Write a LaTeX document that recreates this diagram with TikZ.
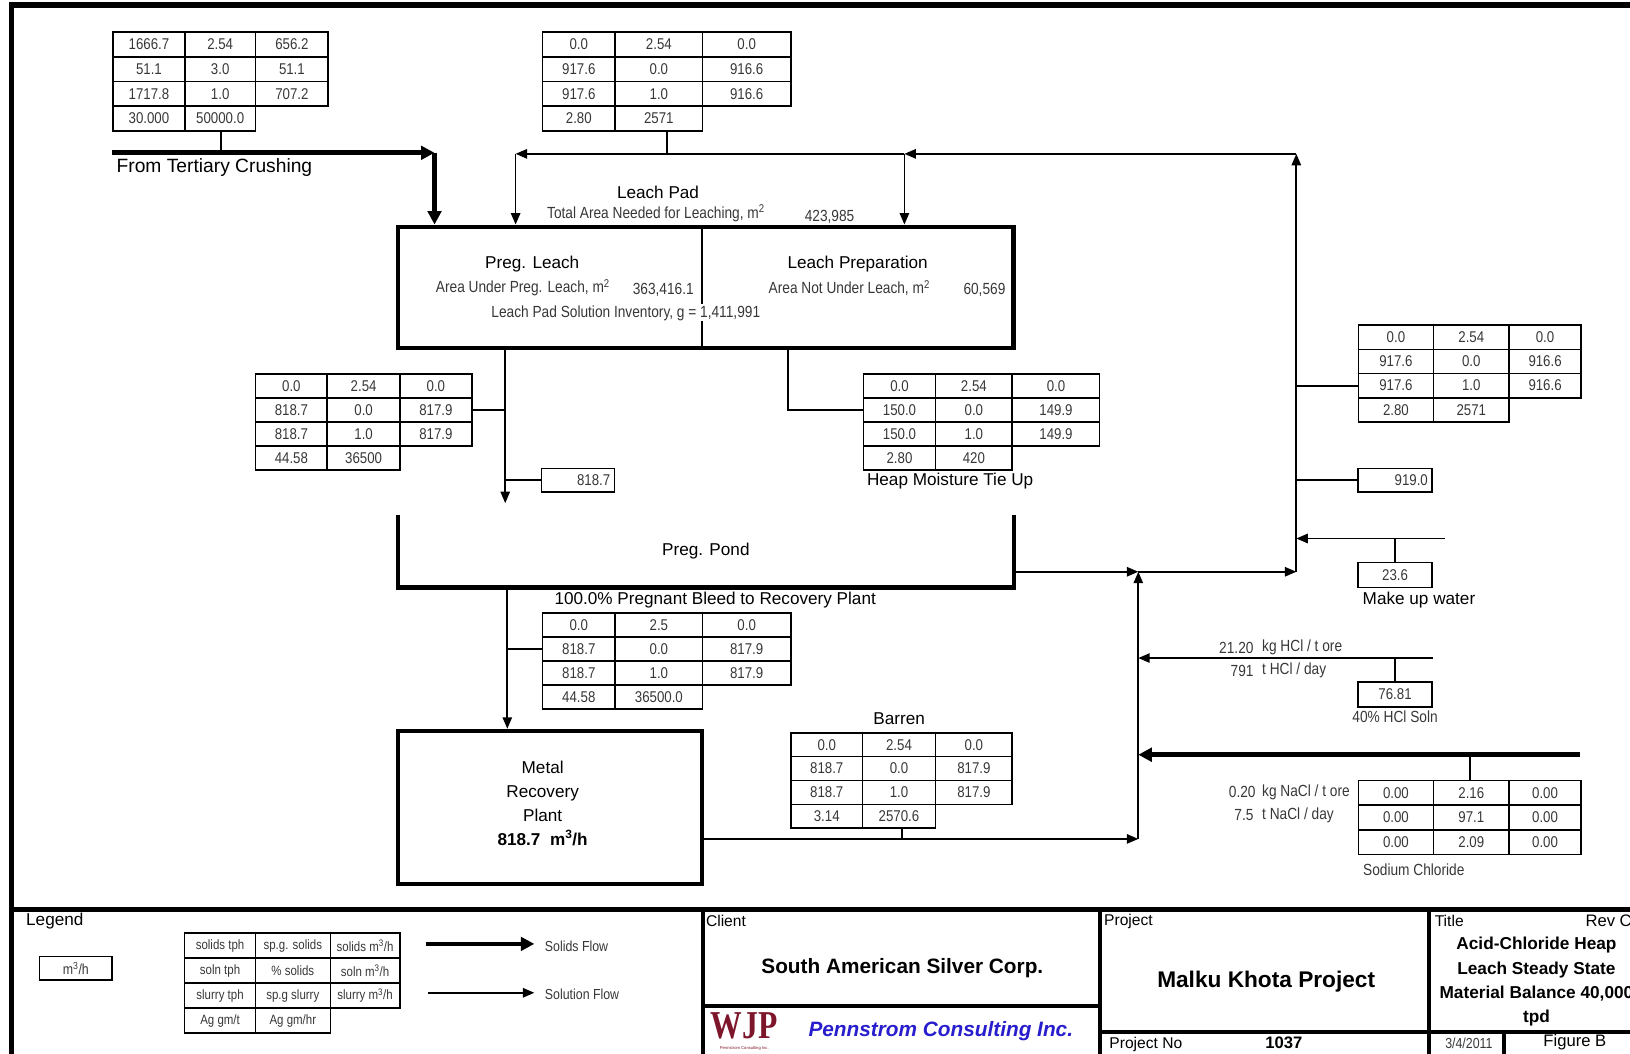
\documentclass[tikz,border=0pt]{standalone}
\usepackage{fontspec}
\setmainfont{Liberation Sans}
\newfontfamily\narrowfont{Liberation Sans}[FakeStretch=0.85]
\newfontfamily\logofont{Liberation Serif}[FakeStretch=0.8]
\usetikzlibrary{matrix,arrows.meta}

\definecolor{numgray}{RGB}{55,55,55}
\definecolor{logored}{RGB}{125,22,42}
\definecolor{pennblue}{RGB}{40,30,205}

\newcommand{\tabnum}{\narrowfont\fontsize{15}{17}\selectfont}
\newcommand{\notefont}{\narrowfont\fontsize{15.5}{18}\selectfont}
\newcommand{\legfont}{\narrowfont\fontsize{14}{16}\selectfont}
\newcommand{\legcell}{\narrowfont\fontsize{13}{15}\selectfont}
\newcommand{\lblfont}{\fontsize{16.5}{19}\selectfont}
\newcommand{\headfont}{\fontsize{15}{17}\selectfont}

\tikzset{
  cell/.style = {draw, line width=1.6pt, minimum height=23.5pt, inner sep=0pt, outer sep=0pt, font=\tabnum, text=numgray},
  datatab/.style = {matrix of nodes, inner sep=0pt, outer sep=0pt, column sep=-1.6pt, row sep=-1.6pt, nodes={cell}, anchor=north west},
  cw/.style n args = {3}{column 1/.style={nodes={minimum width=#1}}, column 2/.style={nodes={minimum width=#2}}, column 3/.style={nodes={minimum width=#3}}},
  rh/.style = {nodes={minimum height=#1}},
  valbox/.style = {cell, minimum width=71pt, minimum height=22.5pt},
  unitbox/.style = {draw, line width=4pt, inner sep=0pt},
  unitline/.style = {line width=4pt},
  divline/.style = {line width=2pt},
  frameline/.style = {line width=5.5pt},
  blockline/.style = {line width=4pt},
  link/.style = {line width=1.8pt},
  solution/.style = {line width=1.6pt, -{Triangle[length=11pt,width=9pt]}},
  solids/.style = {line width=4.5pt, -{Triangle[length=13pt,width=13pt]}},
  lbl/.style = {font=\lblfont, inner sep=0pt},
  note/.style = {font=\notefont, text=numgray, inner sep=0pt},
  head/.style = {font=\headfont, inner sep=0pt, anchor=west}
}

\begin{document}
\begin{tikzpicture}[x=1pt, y=-1pt]
\useasboundingbox (0,0) rectangle (1568,1013);

% sheet frame and title block
\draw[frameline] (1575,5) -- (11,5) -- (11,1020);
\draw[frameline] (11,875) -- (1575,875);
\draw[blockline] (676,875) -- (676,1020);
\draw[blockline] (676,968) -- (1058,968);
\draw[blockline] (1058,875) -- (1058,1020);
\draw[blockline] (1058,993) -- (1575,993);
\draw[blockline] (1375,875) -- (1375,1020);
\draw[blockline] (1447,993) -- (1447,1020);

% leach pad
\node[unitbox, minimum width=592pt, minimum height=117pt] (pad) at (679,276.5) {};
\draw[divline] ([xshift=-4pt]pad.north) -- ([xshift=-4pt]pad.south);
\node[lbl] (lpTitle) at (633,185) {Leach Pad};
\node[note] (lpArea) at (631,205) {Total Area Needed for Leaching, m\textsuperscript{2}};
\node[note] (lpAreaVal) at (798,209) {423,985};
\node[lbl] (plTitle) at (512,254) {Preg. Leach};
\node[note] (plArea) at (503,277) {Area Under Preg. Leach, m\textsuperscript{2}};
\node[note] (plAreaVal) at (638,279) {363,416.1};
\node[note, fill=white, inner sep=1pt] (lpInv) at (602,301) {Leach Pad Solution Inventory, g =~1,411,991};
\node[lbl] (prepTitle) at (825,254) {Leach Preparation};
\node[note] (prepArea) at (817,277) {Area Not Under Leach, m\textsuperscript{2}};
\node[note] (prepAreaVal) at (947,279) {60,569};

% preg. pond and recovery plant
\node[lbl, minimum width=592pt, minimum height=69pt] (pond) at (679,530.5) {Preg. Pond};
\draw[unitline] (pond.north west) -- (pond.south west) -- (pond.south east) -- (pond.north east);
\node[unitbox, minimum width=292pt, minimum height=147pt] (mrp) at (529,776.5) {};
\node[lbl, align=center, font=\fontsize{16.5}{23}\selectfont] (mrpText) at (522,773) {Metal\\Recovery\\Plant\\\textbf{818.7~~m\textsuperscript{3}/h}};

% stream tables
\matrix (feed) [datatab, cw={69pt}{68pt}{70pt}, rh=23.75pt] at (108,30) {
  1666.7 & 2.54 & 656.2 \\
  51.1 & 3.0 & 51.1 \\
  1717.8 & 1.0 & 707.2 \\
  30.000 & 50000.0 \\
};
\matrix (recyc) [datatab, cw={70pt}{84pt}{85pt}, rh=23.75pt] at (521,30) {
  0.0 & 2.54 & 0.0 \\
  917.6 & 0.0 & 916.6 \\
  917.6 & 1.0 & 916.6 \\
  2.80 & 2571 \\
};
\matrix (pregtab) [datatab, cw={69pt}{70pt}{69pt}, rh=23pt] at (245,359) {
  0.0 & 2.54 & 0.0 \\
  818.7 & 0.0 & 817.9 \\
  818.7 & 1.0 & 817.9 \\
  44.58 & 36500 \\
};
\matrix (moist) [datatab, cw={69pt}{74pt}{84pt}, rh=23pt] at (830,359) {
  0.0 & 2.54 & 0.0 \\
  150.0 & 0.0 & 149.9 \\
  150.0 & 1.0 & 149.9 \\
  2.80 & 420 \\
};
\node[lbl, anchor=north] (moistTitle) at (914,455) {Heap Moisture Tie Up};
\matrix (retTab) [datatab, cw={72pt}{73pt}{69pt}, rh=23.25pt] at (1306,312) {
  0.0 & 2.54 & 0.0 \\
  917.6 & 0.0 & 916.6 \\
  917.6 & 1.0 & 916.6 \\
  2.80 & 2571 \\
};
\matrix (bleed) [datatab, cw={70pt}{84pt}{85pt}, rh=23pt] at (521,589) {
  0.0 & 2.5 & 0.0 \\
  818.7 & 0.0 & 817.9 \\
  818.7 & 1.0 & 817.9 \\
  44.58 & 36500.0 \\
};
\node[lbl] (bleedTitle) at (688,577) {100.0\% Pregnant Bleed to Recovery Plant};
\matrix (barren) [datatab, cw={69pt}{70pt}{74pt}, rh=23pt] at (760,704) {
  0.0 & 2.54 & 0.0 \\
  818.7 & 0.0 & 817.9 \\
  818.7 & 1.0 & 817.9 \\
  3.14 & 2570.6 \\
};
\node[lbl] (barrenTitle) at (865,691) {Barren};
\matrix (nacl) [datatab, cw={72pt}{73pt}{69pt}, rh=23.7pt] at (1306,750) {
  0.00 & 2.16 & 0.00 \\
  0.00 & 97.1 & 0.00 \\
  0.00 & 2.09 & 0.00 \\
};
\node[note] (naclTitle) at (1360,837) {Sodium Chloride};

% single value boxes
\node[valbox, minimum width=70pt, text width=62pt, align=right] (flowbox) at (556,462) {818.7};
\node[valbox, text width=63pt, align=right] (tieBox) at (1342,462) {919.0};
\node[valbox, minimum height=24pt] (water) at (1342,553) {23.6};
\node[lbl] (waterTitle) at (1365,577) {Make up water};
\node[valbox, minimum height=24pt] (hcl) at (1342,668) {76.81};
\node[note] (hclTitle) at (1342,689) {40\% HCl Soln};

% reagent rates
\node[note, anchor=east] (hclRate) at (1206,623) {21.20};
\node[note, anchor=west] (hclRateU) at (1214,623) {kg HCl / t ore};
\node[note, anchor=east] (hclDay) at (1206,645) {791};
\node[note, anchor=west] (hclDayU) at (1214,645) {t HCl / day};
\node[note, anchor=east] (naclRate) at (1208,762) {0.20};
\node[note, anchor=west] (naclRateU) at (1214,762) {kg NaCl / t ore};
\node[note, anchor=east] (naclDay) at (1206,784) {7.5};
\node[note, anchor=west] (naclDayU) at (1214,784) {t NaCl / day};

% junctions of the solution circuit
\coordinate (crushL) at (108,147);
\coordinate (crushR) at (418,147);
\coordinate (jTop) at (1247,148);
\coordinate (jP2) at (870,148);
\coordinate (jP1) at (496,148);
\coordinate (jA) at (1095,550);
\coordinate (jB) at (1247,550);
\coordinate (jC) at (1095,807);
\coordinate (dropPond) at (486,484);
\coordinate (dropMRP) at (488,0);
\coordinate (waterIn) at (1390,518);
\coordinate (hclIn) at (1378,633);
\coordinate (naclIn) at (1520,726);

% ore feed
\node[lbl, font=\fontsize{18.5}{21}\selectfont, anchor=west] (crushTitle) at (112,161) {From Tertiary Crushing};
\draw[solids] (crushL) -- (crushR);
\draw[solids] (crushR) -- (crushR |- pad.north);
\draw[link] (feed.south) -- (feed.south |- crushL);

% solution to the pad
\draw[solution] (jB) -- (jTop);
\draw[solution] (jTop) -- (jP2);
\draw[solution] (jP2) -- (jP1);
\draw[solution] (jP1) -- (jP1 |- pad.north);
\draw[solution] (jP2) -- (jP2 |- pad.north);
\draw[link] (recyc.south) -- (recyc.south |- jP1);

% pad drainage
\draw[solution] (dropPond |- pad.south) -- (dropPond);
\draw[link] (pregtab-2-3.east) -- (pregtab-2-3.east -| dropPond);
\draw[link] (flowbox.west) -- (flowbox.west -| dropPond);
\draw[link] ([xshift=79pt]pad.south) |- (moist-2-1.west);

% pond overflow and barren return
\draw[solution] (pond.east |- jA) -- (jA);
\draw[solution] (jA) -- (jB);
\draw[solution] (jC) -- (jA);
\draw[solution] (mrp.east |- jC) -- (jC);
\draw[link] (barren.south) -- (barren.south |- jC);
\draw[solution] (dropMRP |- pond.south) -- (dropMRP |- mrp.north);
\draw[link] (bleed-2-1.west) -- (bleed-2-1.west -| dropMRP);

% make up and reagents
\draw[link] (retTab-3-1.west) -- (retTab-3-1.west -| jB);
\draw[link] (tieBox.west) -- (tieBox.west -| jB);
\draw[solution] (waterIn) -- (waterIn -| jB);
\draw[link] (water.north) -- (water.north |- waterIn);
\draw[solution] (hclIn) -- (hclIn -| jA);
\draw[link] (hcl.north) -- (hcl.north |- hclIn);
\draw[solids] (naclIn) -- (naclIn -| jA);
\draw[link] (nacl.north) -- (nacl.north |- naclIn);

% legend
\node[lbl, anchor=west] (legTitle) at (25,886) {Legend};
\node[cell, minimum width=70pt, minimum height=23pt, font=\legfont] (legUnit) at (73,931.5) {m\textsuperscript{3}/h};
\matrix (legtab) [datatab, column sep=-1.4pt, row sep=-1.4pt, cw={68pt}{72pt}{67pt}, rh=24pt, nodes={font=\legcell, line width=1.4pt, anchor=center}] at (177,897) {
  solids tph & sp.g. solids & solids m\textsuperscript{3}/h \\
  soln tph & \% solids & soln m\textsuperscript{3}/h \\
  slurry tph & sp.g slurry & slurry m\textsuperscript{3}/h \\
  Ag gm/t & Ag gm/hr \\
};
\coordinate (solidsA) at (410,908);
\coordinate (solidsB) at (514,908);
\coordinate (solnA) at (412,955);
\coordinate (solnB) at (514,955);
\draw[solids] (solidsA) -- (solidsB);
\draw[solution] (solnA) -- (solnB);
\node[note, font=\legfont, anchor=west] (legSolids) at (524,910) {Solids Flow};
\node[note, font=\legfont, anchor=west] (legSoln) at (524,956) {Solution Flow};

% client, project and title
\node[head] (clientHead) at (679,886) {Client};
\node[lbl, font=\bfseries\fontsize{20}{22}\selectfont] (client) at (868,931) {South American Silver Corp.};
\node[inner sep=0pt, font=\logofont\bfseries\fontsize{38}{38}\selectfont, text=logored] (logo) at (716,987) {WJP};
\node[inner sep=0pt, font=\fontsize{4}{4}\selectfont, text=logored] (logoSub) at (716,1009) {Pennstrom Consulting Inc.};
\node[lbl, font=\bfseries\itshape\fontsize{20}{22}\selectfont, text=pennblue] (penn) at (905,992) {Pennstrom Consulting Inc.};
\node[head] (projHead) at (1062,886) {Project};
\node[lbl, font=\bfseries\fontsize{21.8}{24}\selectfont] (project) at (1218,944) {Malku Khota Project};
\node[head] (projNoHead) at (1067,1005) {Project No};
\node[lbl, font=\bfseries\fontsize{16}{18}\selectfont] (projNo) at (1235,1003) {1037};
\node[head] (titleHead) at (1380,886) {Title};
\node[head, font=\fontsize{16}{18}\selectfont] (rev) at (1525,886) {Rev C};
\node[lbl, align=center, font=\bfseries\fontsize{16.6}{23.5}\selectfont] (title) at (1478,944.5) {Acid-Chloride Heap\\Leach Steady State\\Material Balance 40,000\\tpd};
\node[note, font=\legfont] (date) at (1413,1004) {3/4/2011};
\node[lbl, font=\fontsize{16}{18}\selectfont] (figure) at (1515,1003) {Figure B};

\end{tikzpicture}
\end{document}
